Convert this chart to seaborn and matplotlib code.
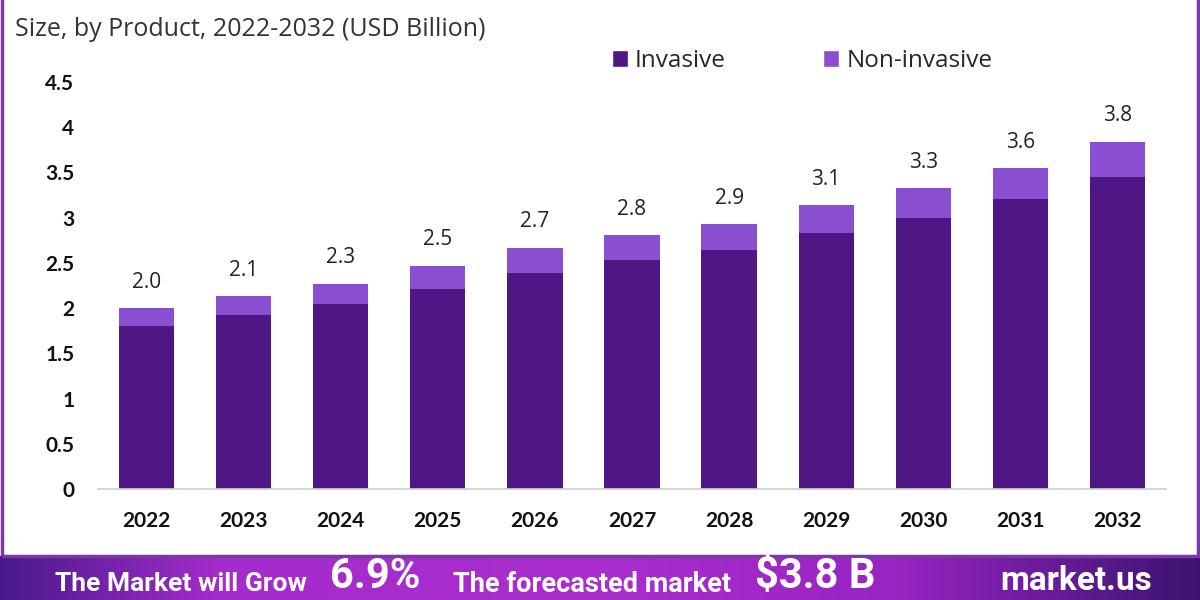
import matplotlib
matplotlib.use('Agg')
import numpy as np
import pandas as pd
import matplotlib.pyplot as plt
import seaborn as sns
from matplotlib.colors import LinearSegmentedColormap
from matplotlib.patches import Rectangle, Patch

# Values (USD Billion)
years = ['2022', '2023', '2024', '2025', '2026', '2027', '2028', '2029', '2030', '2031', '2032']
invasive = [1.80, 1.92, 2.04, 2.21, 2.39, 2.53, 2.64, 2.83, 3.00, 3.21, 3.45]
non_invasive = [0.20, 0.21, 0.23, 0.26, 0.28, 0.28, 0.29, 0.31, 0.33, 0.34, 0.39]
total_labels = ['2.0', '2.1', '2.3', '2.5', '2.7', '2.8', '2.9', '3.1', '3.3', '3.6', '3.8']
y_ticks = [0, 0.5, 1, 1.5, 2, 2.5, 3, 3.5, 4, 4.5]
y_tick_labels = ['0', '0.5', '1', '1.5', '2', '2.5', '3', '3.5', '4', '4.5']

INV_COLOR = '#4e1784'
NONINV_COLOR = '#8a4fd0'
FRAME_COLOR = '#7a3aa6'

sns.set_theme(style="white")
plt.rcParams['font.family'] = ['Open Sans', 'DejaVu Sans']

df = pd.DataFrame({'year': years, 'Invasive': invasive, 'Non-invasive': non_invasive})
df['total'] = df['Invasive'] + df['Non-invasive']

fig = plt.figure(figsize=(12, 6), dpi=100)
W, H = 1200, 600

# main axes
ax = fig.add_axes([98 / W, 1 - 489 / H, 1068 / W, (489 - 82) / H])
sns.barplot(data=df, x='year', y='total', color=NONINV_COLOR, width=0.57,
            saturation=1, linewidth=0, edgecolor='none', ax=ax)
sns.barplot(data=df, x='year', y='Invasive', color=INV_COLOR, width=0.57,
            saturation=1, linewidth=0, edgecolor='none', ax=ax)

for i, (t, lab) in enumerate(zip(df['total'], total_labels)):
    ax.annotate(lab, (i, t), xytext=(0, 11), textcoords='offset points',
                ha='center', va='bottom', fontsize=15, color='#222222')

ax.set_ylim(0, 4.5)
ax.set_yticks(y_ticks)
ax.set_yticklabels(y_tick_labels, fontfamily='Lato', fontweight='bold', fontsize=15)
ax.set_xticks(range(len(years)))
ax.set_xticklabels(years, fontfamily='Lato', fontweight='bold', fontsize=15)
ax.tick_params(axis='x', length=0, pad=16, colors='#111111')
ax.tick_params(axis='y', length=0, pad=17, colors='#111111')
ax.set_xlabel('')
ax.set_ylabel('')
for side in ['top', 'right', 'left']:
    ax.spines[side].set_visible(False)
ax.spines['bottom'].set_color('#d0d0d0')
ax.spines['bottom'].set_linewidth(1.2)

# legend
handles = [Patch(facecolor=INV_COLOR, label='Invasive'),
           Patch(facecolor=NONINV_COLOR, label='Non-invasive')]
ax.legend(handles=handles, ncol=2, frameon=False, loc='upper left',
          bbox_to_anchor=(612 / W, 1 - 49 / H), bbox_transform=fig.transFigure,
          fontsize=17.5, handlelength=0.65, handleheight=0.65, handletextpad=0.3,
          columnspacing=4.0, borderpad=0, borderaxespad=0)

# subtitle
fig.text(15 / W, 1 - 30 / H, 'Size, by Product, 2022-2032 (USD Billion)',
         fontsize=18, color='#333333', va='center', ha='left')

# frame around the chart area
fig.patches.append(Rectangle((1.5 / W, 44 / H), (W - 4) / W, 1,
                             transform=fig.transFigure, fill=False,
                             edgecolor=FRAME_COLOR, linewidth=2.5, zorder=0))

# bottom banner with gradient
bax = fig.add_axes([0, 0, 1, 44 / H])
cmap = LinearSegmentedColormap.from_list(
    'banner', [(0.0, '#4a1a8c'), (0.18, '#a42ccc'), (0.5, '#ab2dce'),
               (0.75, '#9824c2'), (1.0, '#3c1470')])
bax.imshow(np.linspace(0, 1, 400).reshape(1, -1), aspect='auto', cmap=cmap,
           extent=[0, 1, 0, 1])
bax.set_xlim(0, 1)
bax.set_ylim(0, 1)
bax.axis('off')

banner_font = ['Roboto', 'DejaVu Sans']
fig.text(55 / W, 1 - 584 / H, 'The Market will Grow', color='white', fontsize=19,
         fontweight='bold', family=banner_font, va='center', ha='left')
fig.text(330 / W, 1 - 597 / H, '6.9%', color='white', fontsize=30,
         fontweight='bold', family=banner_font, va='bottom', ha='left')
fig.text(453 / W, 1 - 584 / H, 'The forecasted market', color='white', fontsize=19.5,
         fontweight='bold', family=banner_font, va='center', ha='left')
fig.text(755 / W, 1 - 597 / H, '$3.8 B', color='white', fontsize=30,
         fontweight='bold', family=banner_font, va='bottom', ha='left')
fig.text(1000 / W, 1 - 597 / H, 'market.us', color='white', fontsize=24,
         fontweight='bold', family=banner_font, va='bottom', ha='left')

fig.savefig('out.png', dpi=100)
